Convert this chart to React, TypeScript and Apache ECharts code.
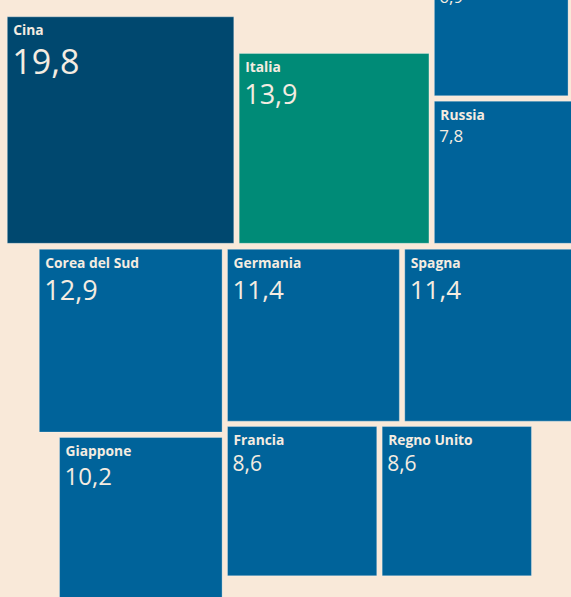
import React, { useEffect, useRef } from "react";
import * as echarts from "echarts";

// ---- Data ----
const countries = [
  "Cina",
  "Italia",
  "Stati Uniti",
  "Russia",
  "Corea del Sud",
  "Germania",
  "Spagna",
  "Giappone",
  "Francia",
  "Regno Unito",
];
const values = [19.8, 13.9, 6.9, 7.8, 12.9, 11.4, 11.4, 10.2, 8.6, 8.6];

// ---- Style / layout config ----
const WIDTH = 571;
const HEIGHT = 597;
const BG = "#f9e9d9";
const SIDE_K = 50.9; // px per sqrt(value): area proportional to value
const GAP = 5.4;
const TEXT = "#f4ece1";
const NAME_FONT = "'Open Sans', Roboto, sans-serif";
const VALUE_FONT = "'Open Sans', Roboto, sans-serif";
const fillFor: Record<string, string> = {
  Cina: "#00486f",
  Italia: "#008b77",
};
const DEFAULT_FILL = "#00639a";
const valueFontSize: Record<string, number> = {
  Cina: 34,
  Italia: 27,
  "Corea del Sud": 27,
  Germania: 26,
  Spagna: 26,
  Giappone: 24,
  Francia: 21,
  "Regno Unito": 21,
  Russia: 17,
  "Stati Uniti": 17,
};

type Box = { x: number; y: number; s: number };

// Packing: rows anchored to a few reference lines, neighbours placed with a gap.
function computeLayout(): Record<string, Box> {
  const side = (name: string) => SIDE_K * Math.sqrt(values[countries.indexOf(name)]);
  const row1Bottom = 243.3;
  const row1Left = 7.3;
  const row2Top = row1Bottom + 6;
  const row2Split = 222.1;
  const L: Record<string, Box> = {};
  const put = (name: string, x: number, y: number) => {
    L[name] = { x, y, s: side(name) };
    return L[name];
  };
  const sC = side("Cina");
  const cina = put("Cina", row1Left, row1Bottom - sC);
  const sI = side("Italia");
  const italia = put("Italia", cina.x + cina.s + GAP, row1Bottom - sI);
  const sR = side("Russia");
  const russia = put("Russia", italia.x + italia.s + GAP, row1Bottom - sR);
  const sU = side("Stati Uniti");
  put("Stati Uniti", russia.x, russia.y - GAP - sU);
  const sK = side("Corea del Sud");
  const corea = put("Corea del Sud", row2Split - sK, row2Top);
  const germ = put("Germania", row2Split + GAP, row2Top);
  put("Spagna", germ.x + germ.s + GAP, row2Top);
  const sG = side("Giappone");
  put("Giappone", row2Split - sG, corea.y + corea.s + GAP);
  const fr = put("Francia", germ.x, germ.y + germ.s + GAP);
  put("Regno Unito", fr.x + fr.s + GAP, fr.y);
  return L;
}

const fmt = (v: number) => v.toFixed(1).replace(".", ",");

export default function App() {
  const ref = useRef<HTMLDivElement>(null);

  useEffect(() => {
    document.body.style.margin = "0";
    if (!ref.current) return;
    const chart = echarts.init(ref.current, null, { renderer: "svg" });
    const layout = computeLayout();

    const data = countries.map((c, i) => ({ name: c, value: [i, values[i]] }));

    chart.setOption({
      animation: false,
      backgroundColor: BG,
      grid: { left: 0, top: 0, right: 0, bottom: 0 },
      xAxis: { type: "value", min: 0, max: WIDTH, show: false },
      yAxis: { type: "value", min: 0, max: HEIGHT, inverse: true, show: false },
      series: [
        {
          type: "custom",
          clip: false,
          data,
          renderItem: (params: any, api: any) => {
            const idx = params.dataIndex;
            const name = countries[idx];
            const v = api.value(1);
            const b = layout[name];
            const tl = api.coord([b.x, b.y]);
            const sz = api.size([b.s, b.s]);
            const fs = valueFontSize[name] ?? 20;
            const nameY = tl[1] + 13;
            const children: any[] = [
              {
                type: "rect",
                shape: { x: tl[0], y: tl[1], width: sz[0], height: sz[1] },
                style: {
                  fill: fillFor[name] ?? DEFAULT_FILL,
                  stroke: "rgba(255,255,255,0.3)",
                  lineWidth: 1,
                },
              },
            ];
            // the name label of a square pushed above the frame is not shown
            if (nameY > 0) {
              children.push({
                type: "text",
                x: tl[0] + 6,
                y: nameY,
                style: {
                  text: name,
                  fill: TEXT,
                  fontSize: 13.8,
                  fontWeight: "bold",
                  fontFamily: NAME_FONT,
                  align: "left",
                  verticalAlign: "middle",
                },
              });
            }
            children.push({
              type: "text",
              x: tl[0] + 5,
              y: tl[1] + 25 + 0.55 * fs,
              style: {
                text: fmt(v),
                fill: TEXT,
                fontSize: fs,
                fontWeight: 400,
                fontFamily: VALUE_FONT,
                align: "left",
                verticalAlign: "middle",
              },
            });
            return { type: "group", children };
          },
        },
      ],
    });

    return () => chart.dispose();
  }, []);

  return <div ref={ref} style={{ width: WIDTH, height: HEIGHT }} />;
}
